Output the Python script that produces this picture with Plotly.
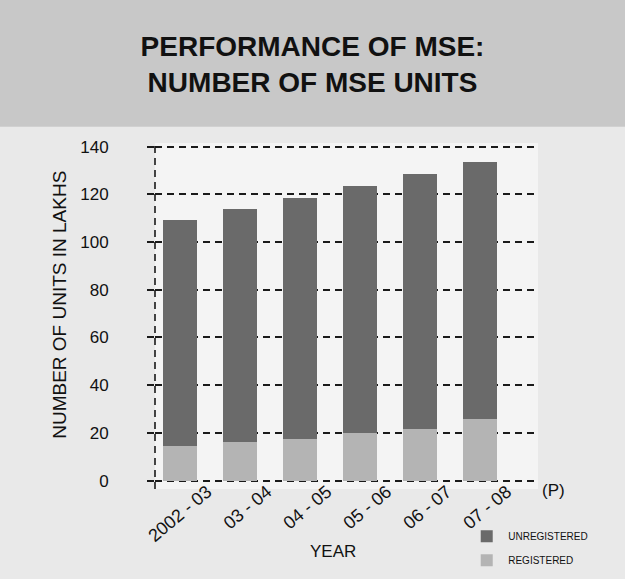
import plotly.graph_objects as go

years = ["2002 - 03", "03 - 04", "04 - 05", "05 - 06", "06 - 07", "07 - 08"]
registered = [14.5, 16.2, 17.3, 19.8, 21.8, 25.7]
unregistered = [94.8, 97.7, 101.1, 103.6, 106.7, 108.0]
y_ticks = [0, 20, 40, 60, 80, 100, 120, 140]

xpos = list(range(len(years)))
FONT = "Liberation Sans, Arial, Helvetica, sans-serif"

fig = go.Figure()
fig.add_trace(go.Bar(x=xpos, y=registered, name="REGISTERED", legendgroup="r",
                     legendrank=2,
                     marker=dict(color="#b4b4b4", line=dict(width=0))))
fig.add_trace(go.Bar(x=xpos, y=unregistered, name="UNREGISTERED", legendgroup="u",
                     legendrank=1,
                     marker=dict(color="#6a6a6a", line=dict(width=0))))

fig.update_layout(
    width=625, height=579,
    barmode="stack", bargap=0.43,
    paper_bgcolor="#e9e9e9", plot_bgcolor="#f4f4f4",
    margin=dict(l=155, r=87, t=143, b=90, autoexpand=False),
    font=dict(family=FONT, color="#111111"),
    title=dict(text="<b>PERFORMANCE OF MSE:<br>NUMBER OF MSE UNITS</b>",
               x=0.5, xanchor="center", y=1 - 56 / 579, yanchor="middle",
               yref="container", font=dict(size=28, family=FONT, color="#111111")),
    showlegend=True,
    legend=dict(traceorder="grouped", x=0.81, xanchor="left", y=-0.095,
                yanchor="top", bgcolor="rgba(0,0,0,0)",
                font=dict(size=10, family=FONT, color="#111111"),
                itemwidth=33, tracegroupgap=5),
    xaxis=dict(range=[-0.42, 5.97], tickmode="array",
               tickvals=[i + 0.45 for i in xpos], ticktext=years,
               tickangle=-40, showgrid=False, zeroline=False, showline=False,
               ticks="", ticklabelstandoff=-12,
               tickfont=dict(size=18, family=FONT, color="#111111")),
    yaxis=dict(range=[-3.5, 141.5], tickmode="array", tickvals=y_ticks,
               showgrid=True, griddash="7px,5px", gridcolor="#1a1a1a", gridwidth=1.6,
               zeroline=False, showline=False,
               ticks="outside", ticklen=7, tickwidth=1.6, tickcolor="#1a1a1a",
               ticklabelstandoff=35,
               tickfont=dict(size=17, family=FONT, color="#111111")),
    shapes=[
        dict(type="rect", xref="paper", yref="paper", x0=-0.41, x1=1.23,
             y0=1.047, y1=1.42, fillcolor="#c8c8c8", line=dict(width=0), layer="below"),
        dict(type="line", xref="x domain", yref="y domain", x0=0, x1=0, y0=0, y1=1,
             line=dict(color="#1a1a1a", width=1.6, dash="7px,5px")),
    ],
    annotations=[
        dict(text="NUMBER OF UNITS IN LAKHS", xref="paper", yref="paper",
             x=(60 - 155) / 383, y=(489.4 - 305) / 346.4, textangle=-90,
             xanchor="center", yanchor="middle", showarrow=False,
             font=dict(size=19, family=FONT, color="#111111")),
        dict(text="YEAR", xref="paper", yref="paper", x=(333 - 155) / 383,
             y=(489.4 - 552) / 346.4, xanchor="center", yanchor="middle",
             showarrow=False, font=dict(size=17, family=FONT, color="#111111")),
        dict(text="(P)", xref="paper", yref="paper", x=(553 - 155) / 383,
             y=(489.4 - 491) / 346.4, xanchor="center", yanchor="middle",
             showarrow=False, font=dict(size=17, family=FONT, color="#111111")),
    ],
)

fig.write_html("out.html", config={"displayModeBar": False},
               post_script="document.body.style.margin='0';")
